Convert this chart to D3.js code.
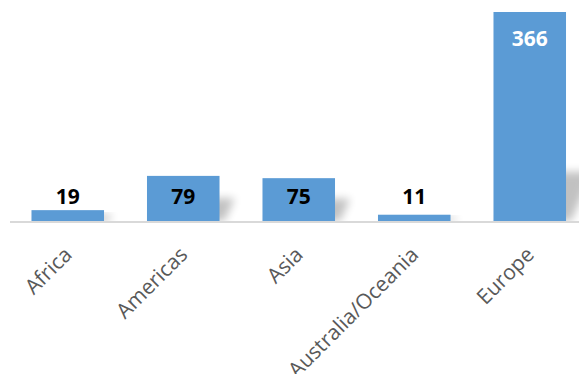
<!DOCTYPE html>
<html>
<head>
<meta charset="utf-8">
<script src="https://cdn.jsdelivr.net/npm/d3@7"></script>
<style>
  html, body { margin: 0; padding: 0; background: #ffffff; }
  svg { display: block; }
</style>
</head>
<body>
<svg id="chart" width="579" height="374"></svg>
<script>
const categories = ["Africa", "Americas", "Asia", "Australia/Oceania", "Europe"];
const values = [19, 79, 75, 11, 366];

const W = 579, H = 374;
const baseY = 221, topY = 12;

const svg = d3.select("#chart");

const x = d3.scaleBand()
  .domain(categories)
  .range([10, 587.5])
  .paddingInner(0.372)
  .paddingOuter(0.186);

const y = d3.scaleLinear()
  .domain([0, d3.max(values)])
  .range([baseY, topY]);

const data = categories.map((c, i) => ({ c, v: values[i] }));

// shadow filter
const defs = svg.append("defs");
const f = defs.append("filter").attr("id", "blur")
  .attr("x", "-50%").attr("y", "-50%").attr("width", "200%").attr("height", "200%");
f.append("feGaussianBlur").attr("stdDeviation", 4.5);

const clip = defs.append("clipPath").attr("id", "plotclip");
clip.append("rect").attr("x", 0).attr("y", 0).attr("width", W).attr("height", baseY);

// perspective shadows
svg.append("g").attr("clip-path", "url(#plotclip)")
  .selectAll("path").data(data).join("path")
  .attr("d", d => {
    const x0 = x(d.c), x1 = x(d.c) + x.bandwidth();
    const h = baseY - y(d.v);
    const sh = Math.min(h * 0.55, 3.4 * Math.sqrt(h));
    const dx = sh * 0.45;
    return `M${x0 + 5},${baseY} L${x1 + 5},${baseY} L${x1 + 5 + dx},${baseY - sh} L${x0 + 5 + dx},${baseY - sh} Z`;
  })
  .attr("fill", "#000")
  .attr("opacity", 0.24)
  .attr("filter", "url(#blur)");

// axis line
const xAxis = d3.axisBottom(x).tickSize(0).tickFormat("");
const axisG = svg.append("g").attr("transform", `translate(0,${baseY + 1})`).call(xAxis);
axisG.select(".domain").attr("stroke", "#d9d9d9").attr("stroke-width", 2)
  .attr("d", `M10,0H${W}`);

// bars
svg.append("g").selectAll("rect").data(data).join("rect")
  .attr("x", d => x(d.c))
  .attr("y", d => y(d.v))
  .attr("width", x.bandwidth())
  .attr("height", d => baseY - y(d.v))
  .attr("fill", "#5b9bd5");

// value labels
svg.append("g").selectAll("text").data(data).join("text")
  .attr("x", d => x(d.c) + x.bandwidth() / 2)
  .attr("y", d => Math.min(y(d.v) + 34, baseY - 17))
  .attr("text-anchor", "middle")
  .attr("font-family", "'Open Sans', sans-serif")
  .attr("font-weight", "bold")
  .attr("font-size", 21)
  .attr("fill", d => d.v > 200 ? "#ffffff" : "#000000")
  .text(d => d.v);

// category labels
svg.append("g").selectAll("text").data(categories).join("text")
  .attr("transform", c => `translate(${x(c) + x.bandwidth() / 2 + 5.5},${baseY + 35}) rotate(-45)`)
  .attr("text-anchor", "end")
  .attr("font-family", "'Open Sans', sans-serif")
  .attr("font-size", 21)
  .attr("fill", "#595959")
  .text(c => c);
</script>
</body>
</html>
